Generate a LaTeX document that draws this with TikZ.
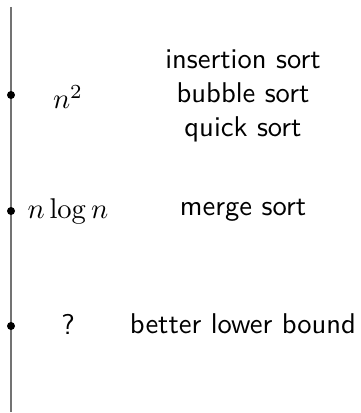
\documentclass[tikz,border=0pt]{standalone}
\begin{document}
\begin{tikzpicture}[x=0.35pt,y=-0.35pt,
  axis/.style={draw=black!55, line width=0.45pt},
  dotm/.style={circle, fill=black, inner sep=0pt, minimum size=2.8pt},
  cplx/.style={anchor=center, inner sep=0pt},
  alg/.style={anchor=center, align=center, font=\sffamily, inner sep=0pt}]
\useasboundingbox (0,0) rectangle (360,413);
\coordinate (top) at (11,7);
\coordinate (bot) at (11,412);
\draw[axis] (top) -- (bot);
\node[dotm] (d1) at (11,95) {};
\node[dotm] (d2) at (11,211) {};
\node[dotm] (d3) at (11,326) {};
\node[cplx] (c1) at (68,97) {$n^2$};
\node[cplx] (c2) at (68,211) {$n\log n$};
\node[cplx, font=\sffamily] (c3) at (68,324) {?};
\node[alg] (a1) at (243,96) {insertion sort\\bubble sort\\quick sort};
\node[alg] (a2) at (243,210) {merge sort};
\node[alg] (a3) at (243,324) {better lower bound};
\end{tikzpicture}
\end{document}
